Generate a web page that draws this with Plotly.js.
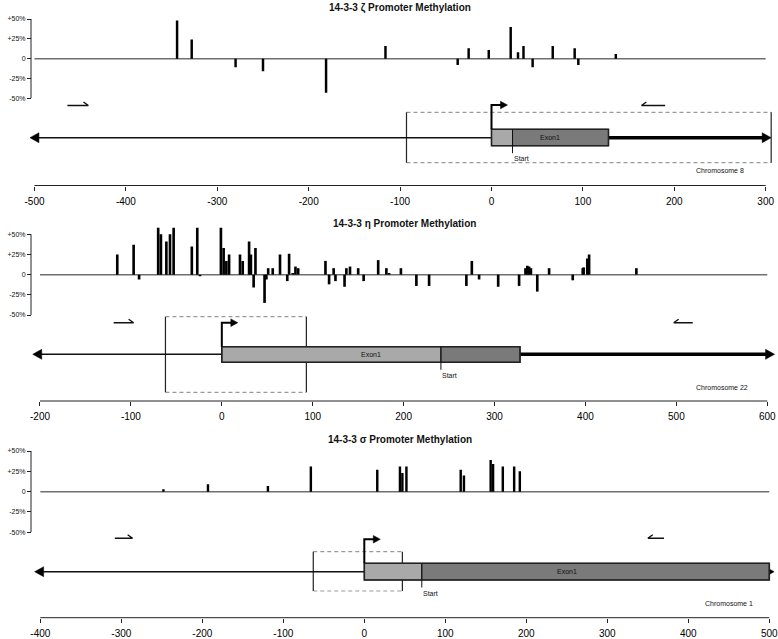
<!DOCTYPE html>
<html><head><meta charset="utf-8">
<script src="https://cdn.plot.ly/plotly-3.0.1.min.js"></script>
<style>html,body{margin:0;padding:0;background:#fff}</style>
</head><body><div id="chart" style="width:778px;height:639px"></div>
<script>
// ---------------- DATA ----------------
const titles = ['14-3-3 ζ Promoter Methylation', '14-3-3 η Promoter Methylation', '14-3-3 σ Promoter Methylation'];
const chromosomes = ['Chromosome 8', 'Chromosome 22', 'Chromosome 1'];

// CpG positions (bp relative to TSS) and methylation change (%)
const zetaPos  = [-344, -328, -280, -250, -181, -116, -37, -25, -3, 21, 29, 35, 45, 67, 91, 95, 136];
const zetaMeth = [48, 24, -11, -16, -43, 16, -8, 13, 11, 40, 8, 16, -11, 16, 13, -8, 6];

const etaPos  = [-115, -97, -91, -70, -67, -61, -57, -53, -33, -27, -24, -1, 2, 5, 8, 20, 23, 30, 32, 35, 37, 47, 49, 51, 56, 64, 72, 74, 78, 81, 84, 114, 118, 123, 125, 135, 137, 141, 150, 156, 172, 181, 184, 197, 214, 228, 269, 275, 283, 304, 327, 334, 336, 338, 340, 347, 360, 386, 397, 398, 402, 404, 456];
const etaMeth = [25, 37, -6, 58, 50, 41, 50, 58, 35, 58, -2, 58, 33, 17, 25, 25, 17, 41, 25, -16, 33, -35, -6, 8, 8, 25, -8, 26, 2, 10, 8, 17, -12, 8, -8, -15, 8, 10, 8, -8, 18, 8, 2, 8, -14, -14, -14, 17, -6, -15, -14, 8, 11, 10, 8, -21, 8, -7, 8, 9, 20, 25, 8];

const sigmaPos  = [-248, -193, -119, -66, 16, 44, 47, 52, 119, 123, 156, 159, 171, 185, 192];
const sigmaMeth = [3, 9, 7, 31, 27, 31, 23, 31, 27, 20, 39, 34, 31, 31, 25];

const ticksZeta  = [-500, -400, -300, -200, -100, 0, 100, 200, 300];
const ticksEta   = [-200, -100, 0, 100, 200, 300, 400, 500, 600];
const ticksSigma = [-400, -300, -200, -100, 0, 100, 200, 300, 400, 500];

const yTickVals = [-50, -25, 0, 25, 50];
const yTickText = ['-50%', '-25%', '0', '+25%', '+50%'];

// gene features (bp)
const seqStart   = [-505, -208, -407];
const seqEnd     = [306, 608, 506];
const exonEnd    = [128, 328, 500];
const codonStart = [23, 241, 71];
const regionStart = [-93, -62, -63];
const regionEnd   = [306, 93, 47];
const fwdPrimerStart = [-464, -119, -308];
const fwdPrimerEnd   = [-441, -97, -286];
const revPrimerStart = [164, 497, 350];
const revPrimerEnd   = [190, 518, 370];

// ---------------- LAYOUT GEOMETRY (pixels) ----------------
const W = 778, H = 639;
const FONT = 'Liberation Sans, Arial, Helvetica, sans-serif';
const py = v => 1 - v / H;

const geo = [
  {t0px: 34.5, ppu: 0.914, xr: [-506, 307], top50: 19, bot50: 98.3, primerY: 105.5, tssTop: 105, boxTop: 112.3, boxBot: 162.7, exTop: 129.3, exBot: 145.7, lineY: 137.7, chromX: 720, chromY: 170, axisY: 185.5, titleX: 400, titleY: 8.5, barW: 2.7},
  {t0px: 40, ppu: 0.9091, xr: [-210, 610], top50: 234.3, bot50: 315, primerY: 322.7, tssTop: 322.7, boxTop: 316.7, boxBot: 392.3, exTop: 346.7, exBot: 362.3, lineY: 354.3, chromX: 722, chromY: 387.3, axisY: 401, titleX: 404, titleY: 223.3, barW: 2.9},
  {t0px: 40.3, ppu: 0.81, xr: [-408, 507], top50: 451, bot50: 532.3, primerY: 538.3, tssTop: 539.3, boxTop: 551.7, boxBot: 591, exTop: 563.3, exBot: 580, lineY: 571.7, chromX: 729, chromY: 603, axisY: 617.7, titleX: 400, titleY: 440, barW: 3.0}
];

const datasets = [
  {pos: zetaPos, val: zetaMeth, ticks: ticksZeta},
  {pos: etaPos, val: etaMeth, ticks: ticksEta},
  {pos: sigmaPos, val: sigmaMeth, ticks: ticksSigma}
];

const shapes = [], annotations = [], traces = [];
const layout = {
  width: W, height: H, margin: {l: 0, r: 0, t: 0, b: 0},
  paper_bgcolor: '#fff', plot_bgcolor: 'rgba(0,0,0,0)',
  showlegend: false, shapes: shapes, annotations: annotations,
  font: {family: FONT, color: '#111'}
};

datasets.forEach((ds, i) => {
  const g = geo[i];
  const s = i === 0 ? '' : String(i + 1);
  const xa = 'x' + s, ya = 'y' + s;
  const ticks = ds.ticks;
  const last = ticks[ticks.length - 1];
  const pxOf = d => g.t0px + (d - ticks[0]) * g.ppu;
  const dx = p => p / g.ppu;
  const ppuY = (g.bot50 - g.top50) / 100;

  layout['xaxis' + s] = {
    domain: [pxOf(g.xr[0]) / W, pxOf(g.xr[1]) / W], range: g.xr,
    anchor: 'free', position: py(g.axisY),
    tickvals: ticks, ticktext: ticks.map(String), ticks: 'outside', ticklen: 4, tickwidth: 1, tickcolor: '#222',
    showline: false, showgrid: false, zeroline: false, fixedrange: true,
    tickfont: {size: 10, color: '#000', family: FONT}, ticklabelstandoff: 2,
    ticklabeloverflow: 'allow'
  };
  layout['yaxis' + s] = {
    domain: [py(g.bot50), py(g.top50 - 10 * ppuY)], range: [-50, 60],
    anchor: 'free', position: 31 / W,
    tickvals: yTickVals, ticktext: yTickText, ticks: 'outside', ticklen: 4, tickwidth: 1, tickcolor: '#222',
    showline: false, showgrid: false, zeroline: false, fixedrange: true,
    tickfont: {size: 7, color: '#111', family: FONT}, ticklabeloverflow: 'allow'
  };

  traces.push({
    type: 'bar', x: ds.pos, y: ds.val, xaxis: xa, yaxis: ya,
    width: g.barW, marker: {color: '#000', line: {width: 0}}, hoverinfo: 'skip'
  });

  // zero line
  shapes.push({type: 'line', xref: xa, yref: ya, x0: ticks[0], x1: last, y0: 0, y1: 0,
    line: {color: '#707070', width: 1.5}, layer: 'below'});
  // y axis line
  shapes.push({type: 'line', xref: 'paper', yref: ya, x0: 31 / W, x1: 31 / W, y0: -50, y1: 50,
    line: {color: '#222', width: 1}});
  // x axis line
  shapes.push({type: 'line', xref: xa, yref: 'paper', x0: ticks[0], x1: last, y0: py(g.axisY), y1: py(g.axisY),
    line: {color: '#222', width: 1}});

  // region (dashed box)
  [g.boxTop, g.boxBot].forEach(yy => shapes.push({type: 'line', xref: xa, yref: 'paper',
    x0: regionStart[i], x1: regionEnd[i], y0: py(yy), y1: py(yy),
    line: {color: '#9a9a9a', width: 1.2, dash: '4px,3px'}}));
  [regionStart[i], regionEnd[i]].forEach(xx => shapes.push({type: 'line', xref: xa, yref: 'paper',
    x0: xx, x1: xx, y0: py(g.boxTop), y1: py(g.boxBot), line: {color: '#222', width: 1.2}}));

  // main sequence line
  shapes.push({type: 'line', xref: xa, yref: 'paper', x0: seqStart[i] + dx(8), x1: 0,
    y0: py(g.lineY), y1: py(g.lineY), line: {color: '#111', width: 1.4}});
  if (exonEnd[i] < seqEnd[i] - dx(8)) {
    shapes.push({type: 'line', xref: xa, yref: 'paper', x0: exonEnd[i], x1: seqEnd[i] - dx(8),
      y0: py(g.lineY), y1: py(g.lineY), line: {color: '#000', width: 3.5}});
  }
  const lt = seqStart[i], rt = seqEnd[i];
  shapes.push({type: 'path', xref: xa, yref: 'paper',
    path: `M ${lt},${py(g.lineY)} L ${lt + dx(9)},${py(g.lineY - 5)} L ${lt + dx(9)},${py(g.lineY + 5)} Z`,
    fillcolor: '#000', line: {color: '#000', width: 0.5}});
  shapes.push({type: 'path', xref: xa, yref: 'paper',
    path: `M ${rt},${py(g.lineY)} L ${rt - dx(9)},${py(g.lineY - 5)} L ${rt - dx(9)},${py(g.lineY + 5)} Z`,
    fillcolor: '#000', line: {color: '#000', width: 0.5}});

  // exon
  shapes.push({type: 'rect', xref: xa, yref: 'paper', x0: 0, x1: codonStart[i], y0: py(g.exBot), y1: py(g.exTop),
    fillcolor: '#a9a9a9', line: {color: '#333', width: 1}});
  shapes.push({type: 'rect', xref: xa, yref: 'paper', x0: codonStart[i], x1: exonEnd[i], y0: py(g.exBot), y1: py(g.exTop),
    fillcolor: '#7a7a7a', line: {color: '#333', width: 1}});
  shapes.push({type: 'rect', xref: xa, yref: 'paper', x0: 0, x1: exonEnd[i], y0: py(g.exBot), y1: py(g.exTop),
    fillcolor: 'rgba(0,0,0,0)', line: {color: '#222', width: 1.6}});
  // start codon line
  shapes.push({type: 'line', xref: xa, yref: 'paper', x0: codonStart[i], x1: codonStart[i],
    y0: py(g.exTop), y1: py(g.exBot + 7.5), line: {color: '#111', width: 1}});

  // TSS bent arrow
  shapes.push({type: 'path', xref: xa, yref: 'paper',
    path: `M 0,${py(g.exTop)} L 0,${py(g.tssTop)} L ${dx(10)},${py(g.tssTop)}`,
    fillcolor: 'rgba(0,0,0,0)', line: {color: '#000', width: 2}});
  shapes.push({type: 'path', xref: xa, yref: 'paper',
    path: `M ${dx(16)},${py(g.tssTop)} L ${dx(9)},${py(g.tssTop - 3.8)} L ${dx(9)},${py(g.tssTop + 3.8)} Z`,
    fillcolor: '#000', line: {color: '#000', width: 0.5}});

  // primers (half arrows)
  const fy = py(g.primerY), fyb = py(g.primerY - 3.5);
  shapes.push({type: 'path', xref: xa, yref: 'paper',
    path: `M ${fwdPrimerStart[i]},${fy} L ${fwdPrimerEnd[i]},${fy} M ${fwdPrimerEnd[i] - dx(5)},${fyb} L ${fwdPrimerEnd[i]},${fy}`,
    fillcolor: 'rgba(0,0,0,0)', line: {color: '#111', width: 1.4}});
  shapes.push({type: 'path', xref: xa, yref: 'paper',
    path: `M ${revPrimerStart[i]},${fy} L ${revPrimerEnd[i]},${fy} M ${revPrimerStart[i] + dx(5)},${fyb} L ${revPrimerStart[i]},${fy}`,
    fillcolor: 'rgba(0,0,0,0)', line: {color: '#111', width: 1.4}});

  // texts
  annotations.push({xref: 'paper', yref: 'paper', x: g.titleX / W, y: py(g.titleY), text: '<b>' + titles[i] + '</b>',
    showarrow: false, xanchor: 'center', yanchor: 'middle', font: {size: 10, color: '#111', family: FONT}});
  annotations.push({xref: xa, yref: 'paper', x: exonEnd[i] / 2, y: py(g.lineY), text: 'Exon1',
    showarrow: false, xanchor: 'center', yanchor: 'middle', font: {size: 7, color: '#111', family: FONT}});
  annotations.push({xref: xa, yref: 'paper', x: codonStart[i], y: py(g.exBot + 13), text: 'Start',
    showarrow: false, xanchor: 'left', yanchor: 'middle', xshift: -1, font: {size: 7, color: '#111', family: FONT}});
  annotations.push({xref: 'paper', yref: 'paper', x: g.chromX / W, y: py(g.chromY), text: chromosomes[i],
    showarrow: false, xanchor: 'center', yanchor: 'middle', font: {size: 7, color: '#111', family: FONT}});
});

Plotly.newPlot('chart', traces, layout, {displayModeBar: false, staticPlot: true});
</script>
</body></html>
